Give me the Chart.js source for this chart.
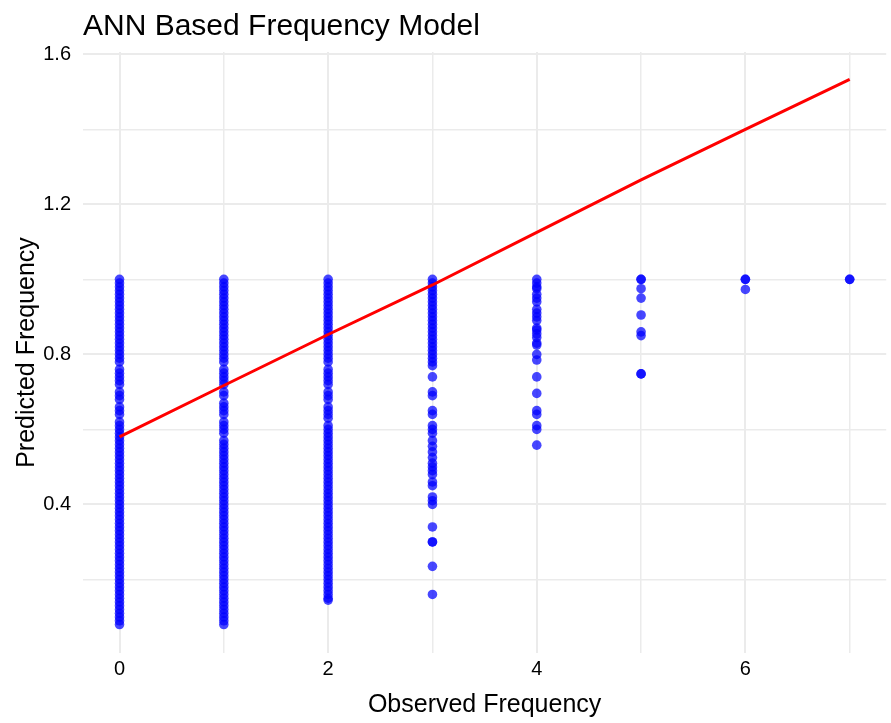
<!DOCTYPE html>
<html>
<head>
<meta charset="utf-8">
<title>ANN Based Frequency Model</title>
<script src="https://cdn.jsdelivr.net/npm/chart.js@4"></script>
<style>
    body { margin: 0; background: #fff; }
    canvas { display: block; }
</style>
</head>
<body>
<canvas id="annChart" width="891" height="723"></canvas>
<script>
// ============================================
// DATA
// ============================================

// predicted frequency for each observed count
const pred0 = [0.08,0.09,0.10,0.11,0.12,0.13,0.14,0.15,0.16,0.17,0.18,0.19,0.20,0.21,0.22,0.23,0.24,0.25,0.26,0.27,0.28,0.29,0.30,0.31,0.32,0.33,0.34,0.35,0.36,0.37,0.38,0.39,0.40,0.41,0.42,0.43,0.44,0.45,0.46,0.47,0.48,0.49,0.50,0.51,0.52,0.53,0.54,0.55,0.56,0.57,0.58,0.59,0.60,0.61,0.62,0.64,0.65,0.66,0.68,0.69,0.70,0.72,0.73,0.74,0.75,0.76,0.78,0.79,0.80,0.81,0.82,0.83,0.84,0.85,0.86,0.87,0.88,0.89,0.90,0.91,0.92,0.93,0.94,0.95,0.96,0.97,0.98,0.99,1.00];
const pred1 = [0.08,0.09,0.10,0.11,0.12,0.13,0.14,0.15,0.16,0.17,0.18,0.19,0.20,0.21,0.22,0.23,0.24,0.25,0.26,0.27,0.28,0.29,0.30,0.31,0.32,0.33,0.34,0.35,0.36,0.37,0.38,0.39,0.40,0.41,0.42,0.43,0.44,0.45,0.46,0.47,0.48,0.49,0.50,0.51,0.52,0.53,0.54,0.55,0.56,0.57,0.59,0.60,0.61,0.62,0.64,0.65,0.66,0.67,0.69,0.70,0.72,0.73,0.74,0.75,0.76,0.78,0.79,0.80,0.81,0.82,0.83,0.84,0.85,0.86,0.87,0.88,0.89,0.90,0.91,0.92,0.93,0.94,0.95,0.96,0.97,0.98,0.99,1.00];
const pred2 = [0.145,0.15,0.16,0.17,0.18,0.19,0.20,0.21,0.22,0.23,0.24,0.25,0.26,0.27,0.28,0.29,0.30,0.31,0.32,0.33,0.34,0.35,0.36,0.37,0.38,0.39,0.40,0.41,0.42,0.43,0.44,0.45,0.46,0.47,0.48,0.49,0.50,0.51,0.52,0.53,0.54,0.55,0.56,0.57,0.58,0.59,0.60,0.61,0.63,0.64,0.65,0.66,0.68,0.69,0.70,0.72,0.73,0.74,0.75,0.76,0.78,0.79,0.80,0.81,0.82,0.83,0.84,0.85,0.86,0.87,0.88,0.89,0.90,0.91,0.92,0.93,0.94,0.95,0.96,0.97,0.98,0.99,1.00];
const pred3 = [0.16,0.235,0.30,0.30,0.34,0.40,0.41,0.42,0.45,0.46,0.48,0.49,0.50,0.51,0.525,0.54,0.555,0.57,0.59,0.60,0.61,0.64,0.65,0.69,0.70,0.74,0.77,0.78,0.79,0.80,0.81,0.82,0.83,0.84,0.85,0.86,0.87,0.88,0.89,0.90,0.91,0.92,0.93,0.94,0.95,0.96,0.97,0.98,0.99,1.00];
const pred4 = [0.558,0.60,0.61,0.64,0.65,0.696,0.74,0.785,0.80,0.825,0.83,0.845,0.855,0.865,0.87,0.89,0.90,0.91,0.92,0.94,0.95,0.96,0.975,0.98,0.99,1.00];
const pred5 = [0.748,0.748,0.85,0.86,0.905,0.95,0.975,1.00,1.00];
const pred6 = [0.973,1.00,1.00];
const pred7 = [1.00,1.00];
const predByObserved = [pred0, pred1, pred2, pred3, pred4, pred5, pred6, pred7];

// fitted red line
const lineObserved = [0, 1, 2, 3, 4, 5, 6, 7];
const linePredicted = [0.58, 0.717, 0.853, 0.985, 1.125, 1.265, 1.40, 1.533];

// axes
const xTickValues = [0, 1, 2, 3, 4, 5, 6, 7];
const xTickLabels = ['0', '', '2', '', '4', '', '6', ''];
const yTickValues = [0.2, 0.4, 0.6, 0.8, 1.0, 1.2, 1.4, 1.6];
const yTickLabels = ['', '0.4', '', '0.8', '', '1.2', '', '1.6'];

// ============================================
// CHART
// ============================================

const FONT = "'Liberation Sans', Arial, Helvetica, sans-serif";
const GRID = '#ebebeb';

const scatterPoints = [];
predByObserved.forEach((preds, obs) => {
    preds.forEach(p => scatterPoints.push({ x: obs, y: p }));
});

const fitLine = lineObserved.map((x, i) => ({ x: x, y: linePredicted[i] }));

// title sits at the left edge of the plot panel
const panelTitle = {
    id: 'panelTitle',
    afterDraw(chart) {
        const ctx = chart.ctx;
        ctx.save();
        ctx.font = '30px ' + FONT;
        ctx.fillStyle = '#000';
        ctx.textAlign = 'left';
        ctx.textBaseline = 'alphabetic';
        ctx.fillText('ANN Based Frequency Model', chart.chartArea.left, 35);
        ctx.restore();
    }
};

const ctx = document.getElementById('annChart').getContext('2d');
new Chart(ctx, {
    type: 'scatter',
    data: {
        datasets: [
            {
                type: 'line',
                label: 'Fit',
                data: fitLine,
                borderColor: '#ff0000',
                borderWidth: 3,
                pointRadius: 0,
                fill: false,
                order: 0
            },
            {
                label: 'Predicted',
                data: scatterPoints,
                backgroundColor: 'rgba(0, 0, 255, 0.72)',
                borderWidth: 0,
                pointRadius: 4.8,
                order: 1
            }
        ]
    },
    options: {
        responsive: false,
        animation: false,
        layout: { padding: { top: 52, left: 0, right: 0, bottom: 0 } },
        plugins: {
            legend: { display: false },
            tooltip: { enabled: false }
        },
        scales: {
            x: {
                type: 'linear',
                min: -0.35,
                max: 7.35,
                afterBuildTicks: scale => { scale.ticks = xTickValues.map(v => ({ value: v })); },
                afterFit: scale => { scale.height = 70; },
                border: { display: false },
                grid: {
                    color: GRID,
                    lineWidth: c => (c.index % 2 === 0 ? 2 : 1.5),
                    drawTicks: false
                },
                ticks: {
                    padding: 4,
                    color: '#000',
                    font: { family: FONT, size: 20 },
                    callback: (v, i) => xTickLabels[i]
                },
                title: {
                    display: true,
                    text: 'Observed Frequency',
                    color: '#000',
                    font: { family: FONT, size: 25 },
                    padding: { top: 0, bottom: 3 }
                }
            },
            y: {
                type: 'linear',
                min: 0.004,
                max: 1.606,
                afterBuildTicks: scale => { scale.ticks = yTickValues.map(v => ({ value: v })); },
                afterFit: scale => { scale.width = 83; },
                border: { display: false },
                grid: {
                    color: GRID,
                    lineWidth: c => (c.index % 2 === 1 ? 2 : 1.5),
                    drawTicks: false
                },
                ticks: {
                    padding: 12,
                    color: '#000',
                    font: { family: FONT, size: 20 },
                    callback: (v, i) => yTickLabels[i]
                },
                title: {
                    display: true,
                    text: 'Predicted Frequency',
                    color: '#000',
                    font: { family: FONT, size: 25 },
                    padding: { top: 12, bottom: 0 }
                }
            }
        }
    },
    plugins: [panelTitle]
});
</script>
</body>
</html>
